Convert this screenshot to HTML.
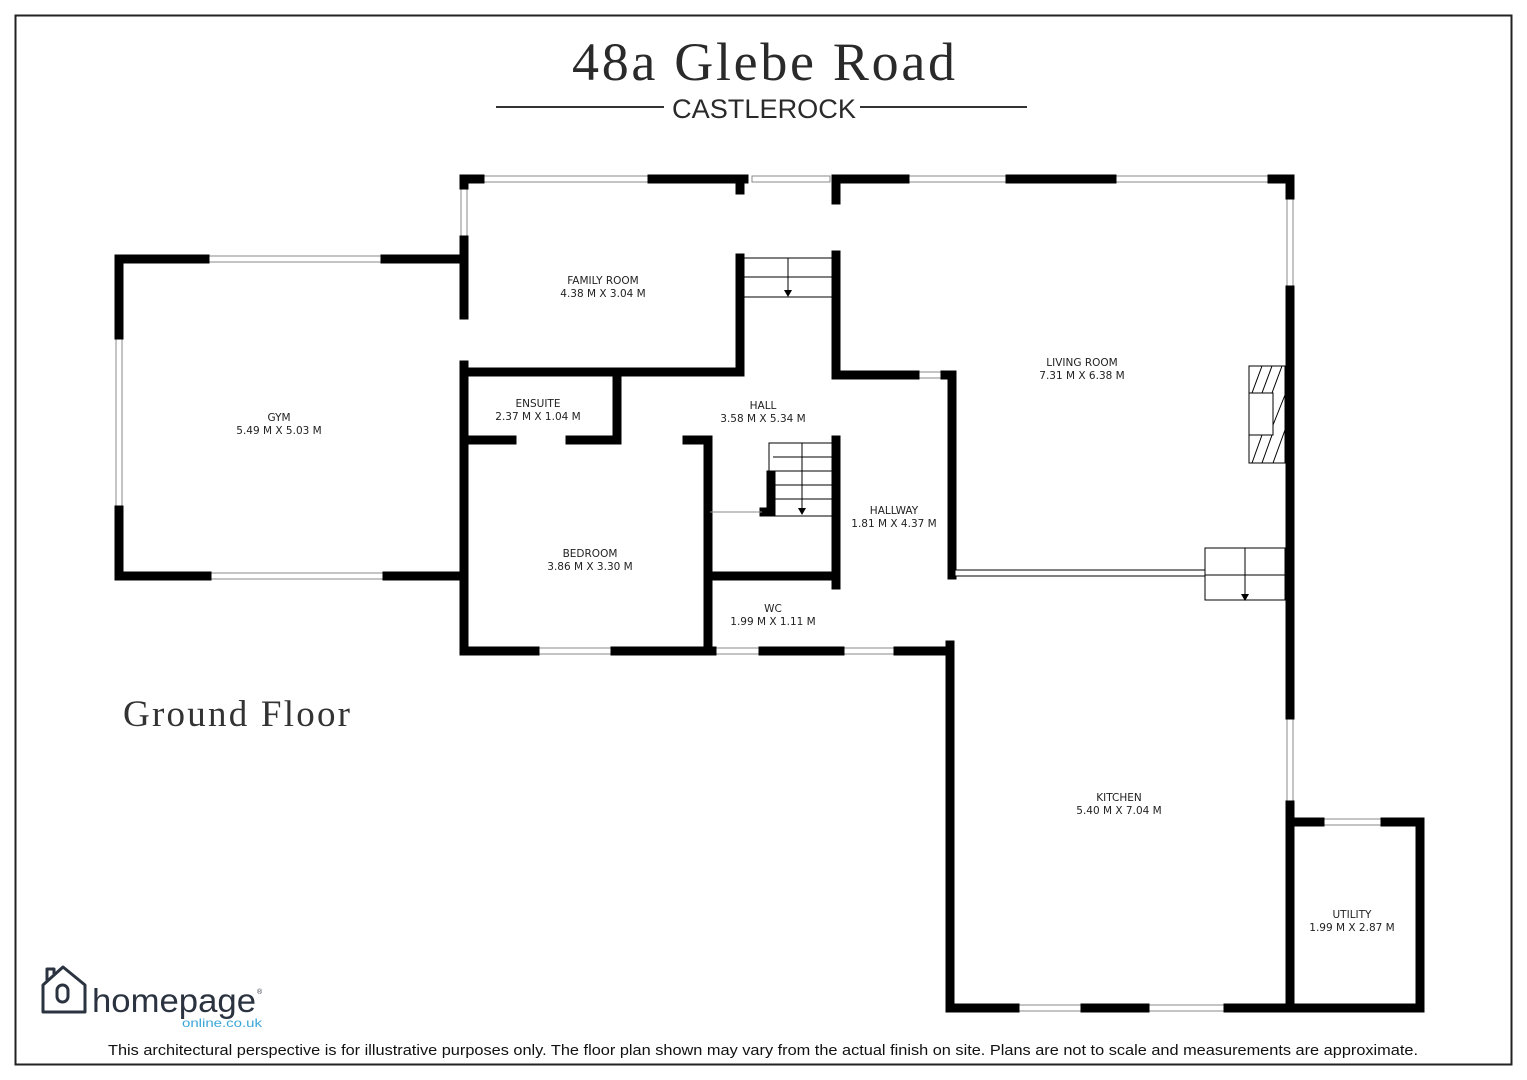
<!DOCTYPE html>
<html><head><meta charset="utf-8"><style>
html,body{margin:0;padding:0;background:#fff;}
svg{display:block}
.w{stroke:#000;stroke-width:9;stroke-linecap:square;fill:none}
.win{fill:#fff;stroke:#888;stroke-width:1}
.t{font-family:"DejaVu Sans","Liberation Sans",sans-serif;font-size:10.5px;fill:#222;text-anchor:middle}
.th{stroke:#000;stroke-width:1;fill:none}
</style></head><body>
<svg width="1527" height="1080" viewBox="0 0 1527 1080" xmlns="http://www.w3.org/2000/svg">
<rect x="15.5" y="15.5" width="1496" height="1049" fill="none" stroke="#222" stroke-width="2"/>
<text x="572" y="80" font-family="Liberation Serif,serif" font-size="54" fill="#2a2a2a" textLength="383" lengthAdjust="spacing" font-weight="300">48a Glebe Road</text>
<line x1="496" y1="107" x2="664" y2="107" stroke="#333" stroke-width="2"/>
<line x1="860" y1="107" x2="1027" y2="107" stroke="#333" stroke-width="2"/>
<text x="672" y="118" font-family="Liberation Sans,sans-serif" font-size="27" fill="#2a2a2a" textLength="184" lengthAdjust="spacingAndGlyphs">CASTLEROCK</text>
<text x="123" y="726" font-family="Liberation Serif,serif" font-size="37" fill="#333" textLength="227" lengthAdjust="spacing">Ground Floor</text>

<!-- windows -->
<rect class="win" x="205" y="256" width="180" height="6"/>
<rect class="win" x="116" y="335" width="6" height="175"/>
<rect class="win" x="207" y="573" width="180" height="6"/>
<rect class="win" x="480" y="176" width="172" height="6"/>
<rect class="win" x="461" y="185" width="6" height="55"/>
<rect class="win" x="752" y="176" width="78" height="6"/>
<rect class="win" x="905" y="176" width="105" height="6"/>
<rect class="win" x="1112" y="176" width="160" height="6"/>
<rect class="win" x="1287" y="195" width="6" height="95"/>
<rect class="win" x="1287" y="715" width="6" height="90"/>
<rect class="win" x="915" y="372" width="30" height="6"/>
<rect class="win" x="535" y="648" width="80" height="6"/>
<rect class="win" x="715" y="648" width="48" height="6"/>
<rect class="win" x="840" y="648" width="58" height="6"/>
<rect class="win" x="947" y="765" width="6" height="85"/>
<rect class="win" x="947" y="880" width="6" height="75"/>
<rect class="win" x="1015" y="1005" width="70" height="6"/>
<rect class="win" x="1145" y="1005" width="83" height="6"/>
<rect class="win" x="1325" y="1005" width="67" height="6"/>
<rect class="win" x="1320" y="819" width="65" height="6"/>

<!-- walls -->
<path class="w" d="M119 259H205 M385 259H462 M119 259V335 M119 510V576H207 M387 576H462"/>
<path class="w" d="M464 179H480 M652 179H744 M464 179V185 M464 240V315 M464 365V651H535 M615 651H712"/>
<path class="w" d="M740 179V190 M740 258V372H464"/>
<path class="w" d="M836 179H905 M1010 179H1112 M1272 179H1290V195 M1290 290V715 M1290 805V1008H1420V822H1385 M1320 822H1290"/>
<path class="w" d="M836 179V200 M836 255V375H915 M945 375H952V575 M950 645V1008H1015 M1085 1008H1145 M1228 1008H1290"/>
<path class="w" d="M617 375V437 M464 440H512 M570 440H617 M687 440H708V651 M708 576H834 M836 440V585 M763 651H840 M898 651H950"/>
<path class="w" d="M771 475V512 M764 512H771"/>
<line x1="710" y1="512" x2="762" y2="512" stroke="#888" stroke-width="1"/>
<!-- stairs upper -->
<rect class="th" x="744" y="258" width="88" height="39"/>
<line class="th" x1="744" y1="277" x2="832" y2="277"/>
<line class="th" x1="788" y1="258" x2="788" y2="293"/>
<polygon points="784,290 792,290 788,297"/>
<!-- stairs lower -->
<rect class="th" x="769" y="443" width="64" height="73"/>
<line class="th" x1="773" y1="457" x2="833" y2="457"/><line class="th" x1="773" y1="471" x2="833" y2="471"/>
<line class="th" x1="773" y1="485" x2="833" y2="485"/><line class="th" x1="773" y1="499" x2="833" y2="499"/>
<line class="th" x1="802" y1="443" x2="802" y2="512"/>
<polygon points="798,508 806,508 802,515"/>
<!-- living/kitchen divider and stair -->
<rect x="955" y="570" width="250" height="6" fill="#fff" stroke="#000" stroke-width="1"/>
<rect class="th" x="1205" y="548" width="80" height="52"/>
<line class="th" x1="1205" y1="575" x2="1285" y2="575"/>
<line class="th" x1="1245" y1="548" x2="1245" y2="595"/>
<polygon points="1241,594 1249,594 1245,601"/>
<!-- fireplace -->
<rect class="th" x="1249" y="366" width="36" height="97"/>
<rect x="1249" y="393" width="24" height="42" fill="#fff" stroke="#000"/>
<path class="th" d="M1252 393L1262 366 M1262 393L1272 366 M1272 393L1282 366 M1252 463L1262 435 M1262 463L1272 435 M1273 463L1285 430 M1273 425L1285 395"/>

<!-- labels -->
<text class="t" x="603" y="284">FAMILY ROOM</text><text class="t" x="603" y="297">4.38 M X 3.04 M</text>
<text class="t" x="279" y="421">GYM</text><text class="t" x="279" y="434">5.49 M X 5.03 M</text>
<text class="t" x="538" y="407">ENSUITE</text><text class="t" x="538" y="420">2.37 M X 1.04 M</text>
<text class="t" x="763" y="409">HALL</text><text class="t" x="763" y="422">3.58 M X 5.34 M</text>
<text class="t" x="590" y="557">BEDROOM</text><text class="t" x="590" y="570">3.86 M X 3.30 M</text>
<text class="t" x="894" y="514">HALLWAY</text><text class="t" x="894" y="527">1.81 M X 4.37 M</text>
<text class="t" x="773" y="612">WC</text><text class="t" x="773" y="625">1.99 M X 1.11 M</text>
<text class="t" x="1082" y="366">LIVING ROOM</text><text class="t" x="1082" y="379">7.31 M X 6.38 M</text>
<text class="t" x="1119" y="801">KITCHEN</text><text class="t" x="1119" y="814">5.40 M X 7.04 M</text>
<text class="t" x="1352" y="918">UTILITY</text><text class="t" x="1352" y="931">1.99 M X 2.87 M</text>

<!-- logo -->
<g fill="none" stroke="#2b3340" stroke-width="3" stroke-linejoin="round">
<path d="M43 1012V985L63 967L85 985V1012Z"/>
<path d="M47 981V969H54V974"/>
<rect x="57" y="985" width="11" height="17" rx="5.5"/>
</g>
<text x="92" y="1012" font-family="Liberation Sans,sans-serif" font-size="33" fill="#2b3340" textLength="164" lengthAdjust="spacingAndGlyphs">homepage</text>
<text x="257" y="994" font-family="Liberation Sans,sans-serif" font-size="7" fill="#2b3340">®</text>
<text x="182" y="1027" font-family="Liberation Sans,sans-serif" font-size="12" fill="#3aa6d8" textLength="80" lengthAdjust="spacingAndGlyphs">online.co.uk</text>
<text x="108" y="1055" font-family="Liberation Sans,sans-serif" font-size="14.5" fill="#111" textLength="1310" lengthAdjust="spacingAndGlyphs">This architectural perspective is for illustrative purposes only. The floor plan shown may vary from the actual finish on site. Plans are not to scale and measurements are approximate.</text>
</svg>
</body></html>
